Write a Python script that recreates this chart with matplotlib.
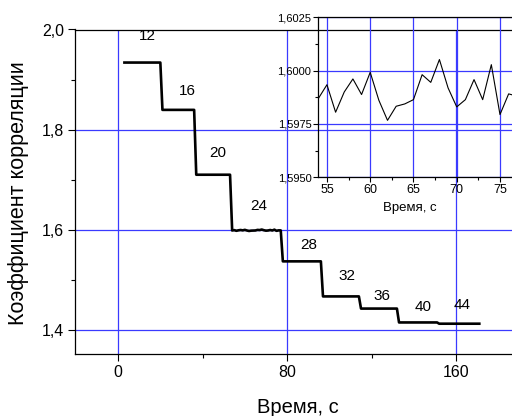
import numpy as np
import matplotlib
matplotlib.use('Agg')
import matplotlib.pyplot as plt
from matplotlib.ticker import FuncFormatter, MultipleLocator

plt.rcParams['font.family'] = ['Liberation Sans', 'DejaVu Sans']

# Correlation level for each window size and the second each level begins
window_sizes = ['12', '16', '20', '24', '28', '32', '36', '40', '44']
level_values = [1.934, 1.8395, 1.710, 1.5988, 1.537, 1.467, 1.4427, 1.4150, 1.4125]
level_starts = [3, 21, 37, 54, 78, 97, 115, 133, 152]
t_end = 171

# Fine-scale samples for the 24 window (1 s step)
zoom_time = list(range(54, 78))
zoom_values = [1.59869, 1.59934, 1.59805, 1.59900, 1.59961, 1.59888, 1.59992,
               1.59861, 1.59767, 1.59833, 1.59844, 1.59864, 1.59981, 1.59945,
               1.60052, 1.59919, 1.59830, 1.59864, 1.59958, 1.59864, 1.60028,
               1.59794, 1.59891, 1.59880]

# Label anchor points (time, value) next to each level
label_pos = [(13.9, 1.987), (32.8, 1.878), (47.0, 1.754), (66.4, 1.647),
             (90.1, 1.570), (108.3, 1.507), (125.1, 1.467), (144.2, 1.445),
             (162.7, 1.449)]

# Build the stepped series sampled each second
t = np.arange(level_starts[0], t_end + 1)
corr = np.zeros(len(t))
bounds = level_starts + [t_end + 1]
for i, val in enumerate(level_values):
    mask = (t >= bounds[i]) & (t < bounds[i + 1])
    corr[mask] = val
for tz, vz in zip(zoom_time, zoom_values):
    corr[t == tz] = vz

grid_color = '#3a3aff'
comma = lambda fmt: FuncFormatter(lambda v, p: (fmt % v).replace('.', ','))

fig = plt.figure(figsize=(5.12, 4.16), dpi=100)
ax = fig.add_axes([75 / 512, 62 / 416, 455 / 512, 324.5 / 416])
ax.plot(t, corr, color='black', lw=1.9, zorder=3)
ax.set_xlim(-20.4, 195)
ax.set_ylim(1.352, 2.0)
ax.xaxis.set_major_locator(MultipleLocator(80))
ax.xaxis.set_minor_locator(MultipleLocator(40))
ax.yaxis.set_major_locator(MultipleLocator(0.2))
ax.yaxis.set_minor_locator(MultipleLocator(0.1))
ax.yaxis.set_major_formatter(comma('%.1f'))
ax.grid(True, which='major', color=grid_color, lw=0.9)
ax.tick_params(which='major', direction='out', length=5, width=0.8, labelsize=11.5, pad=3)
ax.tick_params(which='minor', direction='out', length=3, width=0.8)
for s in ax.spines.values():
    s.set_linewidth(0.9)
ax.set_xlabel('Время, с', fontsize=14.5)
ax.xaxis.set_label_coords(0.49, -0.135)
ax.set_ylabel('Коэффициент корреляции', fontsize=15.5)
ax.yaxis.set_label_coords(-0.101, 0.495)

for lab, (lx, ly) in zip(window_sizes, label_pos):
    ax.text(lx, ly, lab, fontsize=11, ha='center', va='center')

# Inset: fluctuations within one level
ins = fig.add_axes([318.3 / 512, 238.7 / 416, 195.7 / 512, 160 / 416])
ins.patch.set_alpha(0)
ins.plot(zoom_time, zoom_values, color='black', lw=0.8)
ins.set_xlim(54, 76.62)
ins.set_ylim(1.5950, 1.6025)
ins.xaxis.set_major_locator(MultipleLocator(5))
ins.xaxis.set_minor_locator(MultipleLocator(2.5))
ins.yaxis.set_major_locator(MultipleLocator(0.0025))
ins.yaxis.set_minor_locator(MultipleLocator(0.00125))
ins.yaxis.set_major_formatter(comma('%.4f'))
ins.grid(True, which='major', color=grid_color, lw=0.9)
ins.tick_params(axis='x', which='major', direction='out', length=3.5, width=0.8, labelsize=9, pad=1.5)
ins.tick_params(axis='y', which='major', direction='out', length=3.5, width=0.8, labelsize=8, pad=1.5)
ins.tick_params(which='minor', direction='out', length=2, width=0.8)
for s in ins.spines.values():
    s.set_linewidth(0.9)
ins.set_xlabel('Время, с', fontsize=9.5)
ins.xaxis.set_label_coords(0.47, -0.155)

fig.savefig('out.png', dpi=100)
